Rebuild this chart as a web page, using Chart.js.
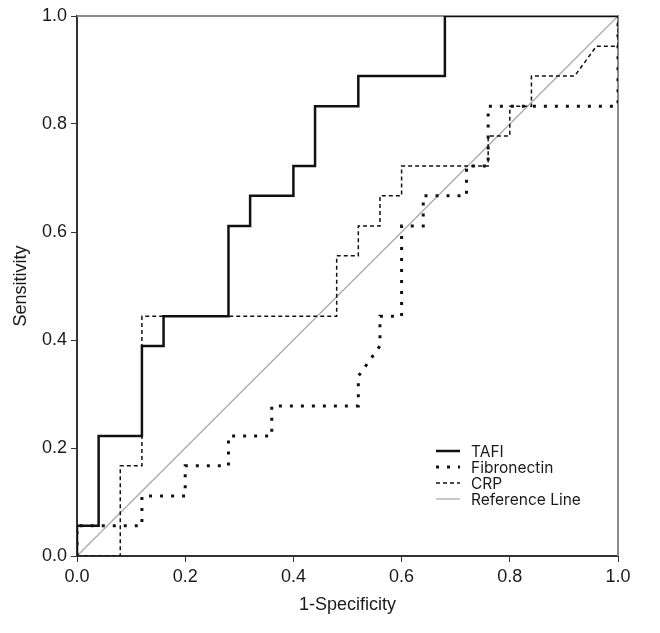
<!DOCTYPE html>
<html>
<head>
<meta charset="utf-8">
<script src="https://cdn.jsdelivr.net/npm/chart.js@4"></script>
<style>
  html, body { margin: 0; padding: 0; background: #fff; }
  #wrap { width: 660px; height: 633px; }
</style>
</head>
<body>
<div id="wrap"><canvas id="rocChart" width="660" height="633"></canvas></div>
<script>
// ROC curve points (1-specificity, sensitivity)
const tafiX = [0, 0, 0.04, 0.04, 0.12, 0.12, 0.16, 0.16, 0.28, 0.28, 0.32, 0.32, 0.40, 0.40, 0.44, 0.44, 0.52, 0.52, 0.68, 0.68, 1.0];
const tafiY = [0, 0.056, 0.056, 0.222, 0.222, 0.389, 0.389, 0.444, 0.444, 0.611, 0.611, 0.667, 0.667, 0.722, 0.722, 0.833, 0.833, 0.889, 0.889, 1.0, 1.0];

const fibroX = [0, 0, 0.12, 0.12, 0.20, 0.20, 0.28, 0.28, 0.36, 0.36, 0.52, 0.52, 0.56, 0.56, 0.60, 0.60, 0.64, 0.64, 0.72, 0.72, 0.76, 0.76, 1.0, 1.0];
const fibroY = [0, 0.056, 0.056, 0.111, 0.111, 0.167, 0.167, 0.222, 0.222, 0.278, 0.278, 0.333, 0.389, 0.444, 0.444, 0.611, 0.611, 0.667, 0.667, 0.722, 0.722, 0.833, 0.833, 1.0];

const crpX = [0, 0.08, 0.08, 0.12, 0.12, 0.48, 0.48, 0.52, 0.52, 0.56, 0.56, 0.60, 0.60, 0.76, 0.76, 0.80, 0.80, 0.84, 0.84, 0.92, 0.96, 1.0, 1.0];
const crpY = [0, 0, 0.167, 0.167, 0.444, 0.444, 0.556, 0.556, 0.611, 0.611, 0.667, 0.667, 0.722, 0.722, 0.778, 0.778, 0.833, 0.833, 0.889, 0.889, 0.944, 0.944, 1.0];

const refX = [0, 1];
const refY = [0, 1];

const tickValues = [0, 0.2, 0.4, 0.6, 0.8, 1.0];
const seriesNames = ["TAFI", "Fibronectin", "CRP", "Reference Line"];

function toPoints(xs, ys) {
  return xs.map((x, i) => ({ x: x, y: ys[i] }));
}

const axisFont = { family: "'Liberation Sans', Arial, sans-serif", size: 18 };

// gray frame on top/right + legend inside the plot
const framePlugin = {
  id: "frame",
  beforeDatasetsDraw(chart) {
    const { ctx, chartArea: a } = chart;
    ctx.save();
    ctx.strokeStyle = "#8a8a8a";
    ctx.lineWidth = 2;
    ctx.beginPath();
    ctx.moveTo(a.left, a.top);
    ctx.lineTo(a.right, a.top);
    ctx.lineTo(a.right, a.bottom);
    ctx.stroke();
    ctx.restore();
  },
  afterDraw(chart) {
    const ctx = chart.ctx;
    ctx.save();
    ctx.font = "15.5px Inter, 'Liberation Sans', sans-serif";
    ctx.textBaseline = "middle";
    chart.data.datasets.forEach((ds, i) => {
      const y = 451 + i * 16;
      ctx.strokeStyle = ds.borderColor;
      ctx.lineWidth = ds.borderWidth;
      ctx.setLineDash(ds.borderDash || []);
      ctx.beginPath();
      ctx.moveTo(436, y);
      ctx.lineTo(460, y);
      ctx.stroke();
      ctx.setLineDash([]);
      ctx.fillStyle = "#1a1a1a";
      ctx.fillText(ds.label, 471, y + 1);
    });
    ctx.restore();
  }
};

const ctx = document.getElementById("rocChart").getContext("2d");

new Chart(ctx, {
  type: "line",
  data: {
    datasets: [
      {
        label: seriesNames[0],
        data: toPoints(tafiX, tafiY),
        borderColor: "#111",
        borderWidth: 2.5,
        pointRadius: 0,
        fill: false,
      },
      {
        label: seriesNames[1],
        data: toPoints(fibroX, fibroY),
        borderColor: "#111",
        borderWidth: 3,
        borderDash: [3, 8],
        pointRadius: 0,
        fill: false,
      },
      {
        label: seriesNames[2],
        data: toPoints(crpX, crpY),
        borderColor: "#111",
        borderWidth: 1.5,
        borderDash: [4, 3],
        pointRadius: 0,
        fill: false,
      },
      {
        label: seriesNames[3],
        data: toPoints(refX, refY),
        borderColor: "#aaaaaa",
        borderWidth: 1.3,
        pointRadius: 0,
        fill: false,
      },
    ],
  },
  options: {
    responsive: false,
    animation: false,
    layout: { padding: { top: 16, right: 42, left: 6, bottom: 13 } },
    plugins: {
      legend: { display: false },
      tooltip: { enabled: false },
    },
    scales: {
      x: {
        type: "linear",
        min: 0,
        max: 1,
        afterBuildTicks: (scale) => { scale.ticks = tickValues.map(v => ({ value: v })); },
        afterFit: (scale) => { scale.height = 64; },
        ticks: {
          callback: (v) => v.toFixed(1),
          font: axisFont,
          color: "#1a1a1a",
          padding: 4,
          maxRotation: 0,
        },
        grid: { drawOnChartArea: false, drawTicks: true, tickLength: 6, color: "#333" },
        border: { display: true, color: "#333", width: 2 },
        title: {
          display: true,
          text: "1-Specificity",
          font: axisFont,
          color: "#1a1a1a",
          padding: { top: 0 },
        },
      },
      y: {
        type: "linear",
        min: 0,
        max: 1,
        afterBuildTicks: (scale) => { scale.ticks = tickValues.map(v => ({ value: v })); },
        afterFit: (scale) => { scale.width = 71; },
        ticks: {
          callback: (v) => v.toFixed(1),
          font: axisFont,
          color: "#1a1a1a",
          padding: 4,
        },
        grid: { drawOnChartArea: false, drawTicks: true, tickLength: 6, color: "#333" },
        border: { display: true, color: "#333", width: 2 },
        title: {
          display: true,
          text: "Sensitivity",
          font: axisFont,
          color: "#1a1a1a",
          padding: { bottom: 0 },
        },
      },
    },
  },
  plugins: [framePlugin],
});
</script>
</body>
</html>
